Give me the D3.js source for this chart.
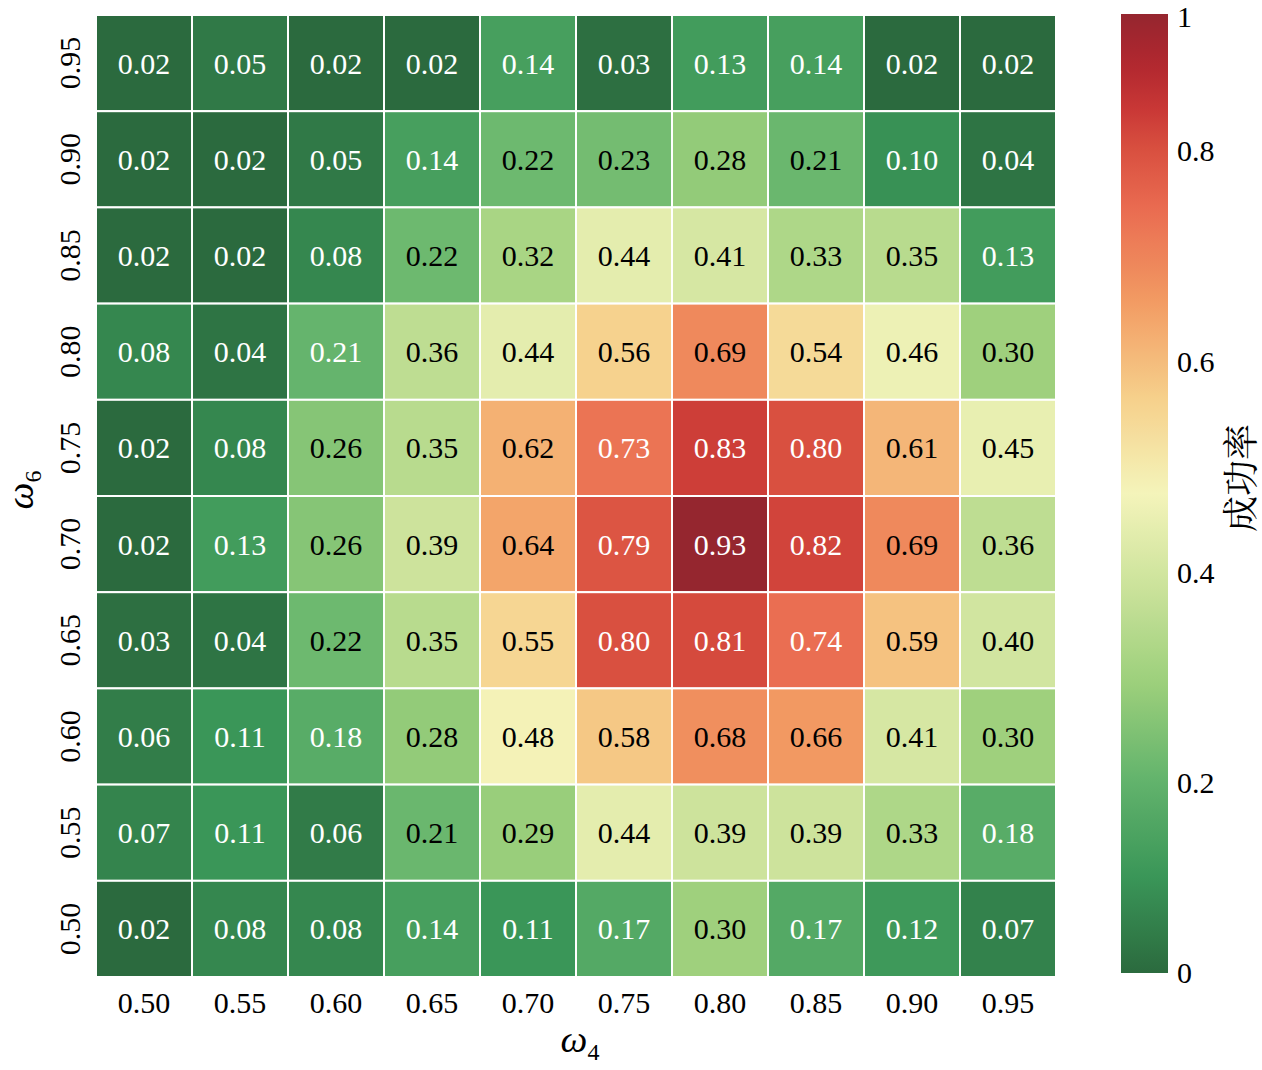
<!DOCTYPE html>
<html>
<head>
<meta charset="utf-8">
<script src="https://cdn.jsdelivr.net/npm/d3@7/dist/d3.min.js"></script>
</head>
<body style="margin:0;padding:0;background:#ffffff;">
<svg id="chart" width="1262" height="1070" style="display:block"></svg>
<script>
// ---- data ----
const xLabels = ["0.50","0.55","0.60","0.65","0.70","0.75","0.80","0.85","0.90","0.95"]; // ω4
const yLabels = ["0.95","0.90","0.85","0.80","0.75","0.70","0.65","0.60","0.55","0.50"]; // ω6, top to bottom
const row095 = [0.02,0.05,0.02,0.02,0.14,0.03,0.13,0.14,0.02,0.02];
const row090 = [0.02,0.02,0.05,0.14,0.22,0.23,0.28,0.214,0.10,0.04];
const row085 = [0.02,0.02,0.08,0.22,0.32,0.44,0.41,0.33,0.35,0.13];
const row080 = [0.08,0.04,0.206,0.36,0.44,0.56,0.69,0.54,0.46,0.30];
const row075 = [0.02,0.08,0.26,0.35,0.62,0.73,0.83,0.80,0.61,0.45];
const row070 = [0.02,0.13,0.26,0.39,0.64,0.79,0.93,0.82,0.69,0.36];
const row065 = [0.03,0.04,0.22,0.35,0.55,0.80,0.81,0.74,0.59,0.40];
const row060 = [0.06,0.11,0.18,0.28,0.48,0.58,0.68,0.66,0.41,0.30];
const row055 = [0.074,0.11,0.056,0.214,0.29,0.44,0.39,0.39,0.33,0.18];
const row050 = [0.02,0.08,0.08,0.14,0.11,0.17,0.30,0.17,0.12,0.07];
const rows = [row095,row090,row085,row080,row075,row070,row065,row060,row055,row050];
const cbarTickValues = [0.02, 0.2, 0.4, 0.6, 0.8, 0.93];
const cbarTickLabels = ["0", "0.2", "0.4", "0.6", "0.8", "1"];
const colorStops = [0, 0.1, 0.2, 0.3, 0.4, 0.5, 0.6, 0.7, 0.8, 0.86, 0.9, 0.95, 1];
const colorList = ["#2b6a3e","#3a9658","#62b36c","#9bcf7b","#cae29a","#f4f4ba","#f6d08b","#f29b63","#e96a50","#d84f3f","#c93836","#b0272f","#95262f"];

// ---- build ----
const SERIF = "'Liberation Serif'";
const CJK = "'Noto Serif CJK SC'";
const cells = [];
rows.forEach((r, i) => r.forEach((v, j) => cells.push({ x: xLabels[j], y: yLabels[i], v })));

const vmin = d3.min(cells, d => d.v), vmax = d3.max(cells, d => d.v);
const tScale = d3.scaleLinear().domain([vmin, vmax]).range([0, 1]).clamp(true);
const cmap = d3.scaleLinear().domain(colorStops).range(colorList).interpolate(d3.interpolateRgb);
const color = v => cmap(tScale(v));

const svg = d3.select("#chart");
const mLeft = 96, mRight = 1056, mTop = 15, mBottom = 977;
const x = d3.scaleBand().domain(xLabels).range([mLeft, mRight]);
const y = d3.scaleBand().domain(yLabels).range([mTop, mBottom]);

const g = svg.append("g");
g.selectAll("rect.cell").data(cells).enter().append("rect")
  .attr("class", "cell")
  .attr("x", d => x(d.x)).attr("y", d => y(d.y))
  .attr("width", x.bandwidth()).attr("height", y.bandwidth())
  .attr("fill", d => color(d.v))
  .attr("stroke", "#ffffff").attr("stroke-width", 2);

g.selectAll("text.val").data(cells).enter().append("text")
  .attr("class", "val")
  .attr("x", d => x(d.x) + x.bandwidth() / 2)
  .attr("y", d => y(d.y) + y.bandwidth() / 2)
  .attr("text-anchor", "middle").attr("dominant-baseline", "central")
  .style("font-family", SERIF)
  .style("font-size", "30px")
  .style("fill", d => (d.v < 0.208 || d.v > 0.71) ? "#ffffff" : "#000000")
  .text(d => d3.format(".2f")(d.v));

// x axis
const xAxis = svg.append("g").attr("transform", `translate(0,${mBottom})`)
  .call(d3.axisBottom(x).tickSize(0).tickPadding(15));
xAxis.attr("font-family", null);
xAxis.select(".domain").remove();
xAxis.selectAll("text").style("font-family", SERIF).style("font-size", "30px").style("fill", "#000")
  .attr("dy", "0.71em");

// y axis
const yAxis = svg.append("g").attr("transform", `translate(${mLeft},0)`)
  .call(d3.axisLeft(y).tickSize(0));
yAxis.attr("font-family", null);
yAxis.select(".domain").remove();
yAxis.selectAll(".tick text")
  .attr("x", null).attr("dy", null)
  .attr("text-anchor", "middle")
  .attr("dominant-baseline", "central")
  .attr("transform", "translate(-27,0) rotate(-90)")
  .style("font-family", SERIF).style("font-size", "30px").style("fill", "#000");

// axis labels
const xl = svg.append("text").attr("x", 580).attr("y", 1052).attr("text-anchor", "middle")
  .style("font-family", SERIF).style("fill", "#000");
xl.append("tspan").style("font-family", SERIF).style("font-style", "italic").style("font-size", "38px").text("ω");
xl.append("tspan").style("font-family", SERIF).attr("dy", 8).style("font-size", "24px").text("4");

const yl = svg.append("text").attr("transform", "translate(33,490) rotate(-90)").attr("text-anchor", "middle")
  .style("font-family", SERIF).style("fill", "#000");
yl.append("tspan").style("font-family", SERIF).style("font-style", "italic").style("font-size", "38px").text("ω");
yl.append("tspan").style("font-family", SERIF).attr("dy", 8).style("font-size", "24px").text("6");

// colorbar
const cbX = 1121, cbW = 47, cbTop = 14, cbBot = 973;
const defs = svg.append("defs");
const grad = defs.append("linearGradient").attr("id", "cbgrad")
  .attr("x1", "0").attr("y1", "1").attr("x2", "0").attr("y2", "0");
d3.range(0, 1.0001, 0.02).forEach(t => {
  grad.append("stop").attr("offset", t).attr("stop-color", cmap(t));
});
svg.append("rect").attr("x", cbX).attr("y", cbTop).attr("width", cbW).attr("height", cbBot - cbTop)
  .attr("fill", "url(#cbgrad)");

const cbScale = d3.scaleLinear().domain([vmin, vmax]).range([cbBot, cbTop]);
const cbAxis = svg.append("g").attr("transform", `translate(${cbX + cbW},0)`)
  .call(d3.axisRight(cbScale).tickValues(cbarTickValues).tickSize(0).tickPadding(9)
    .tickFormat((d, i) => cbarTickLabels[i]));
cbAxis.attr("font-family", null);
cbAxis.select(".domain").remove();
cbAxis.selectAll("text").style("font-family", SERIF).style("font-size", "30px").style("fill", "#000")
  .attr("dy", (d, i) => i === cbarTickValues.length - 1 ? "0.42em" : "0.32em");

svg.append("text")
  .attr("transform", "translate(1238,478) rotate(-90)")
  .attr("text-anchor", "middle").attr("dominant-baseline", "central")
  .style("font-family", CJK).style("fill", "#000")
  .style("font-size", "36px")
  .text("成功率");
</script>
</body>
</html>
